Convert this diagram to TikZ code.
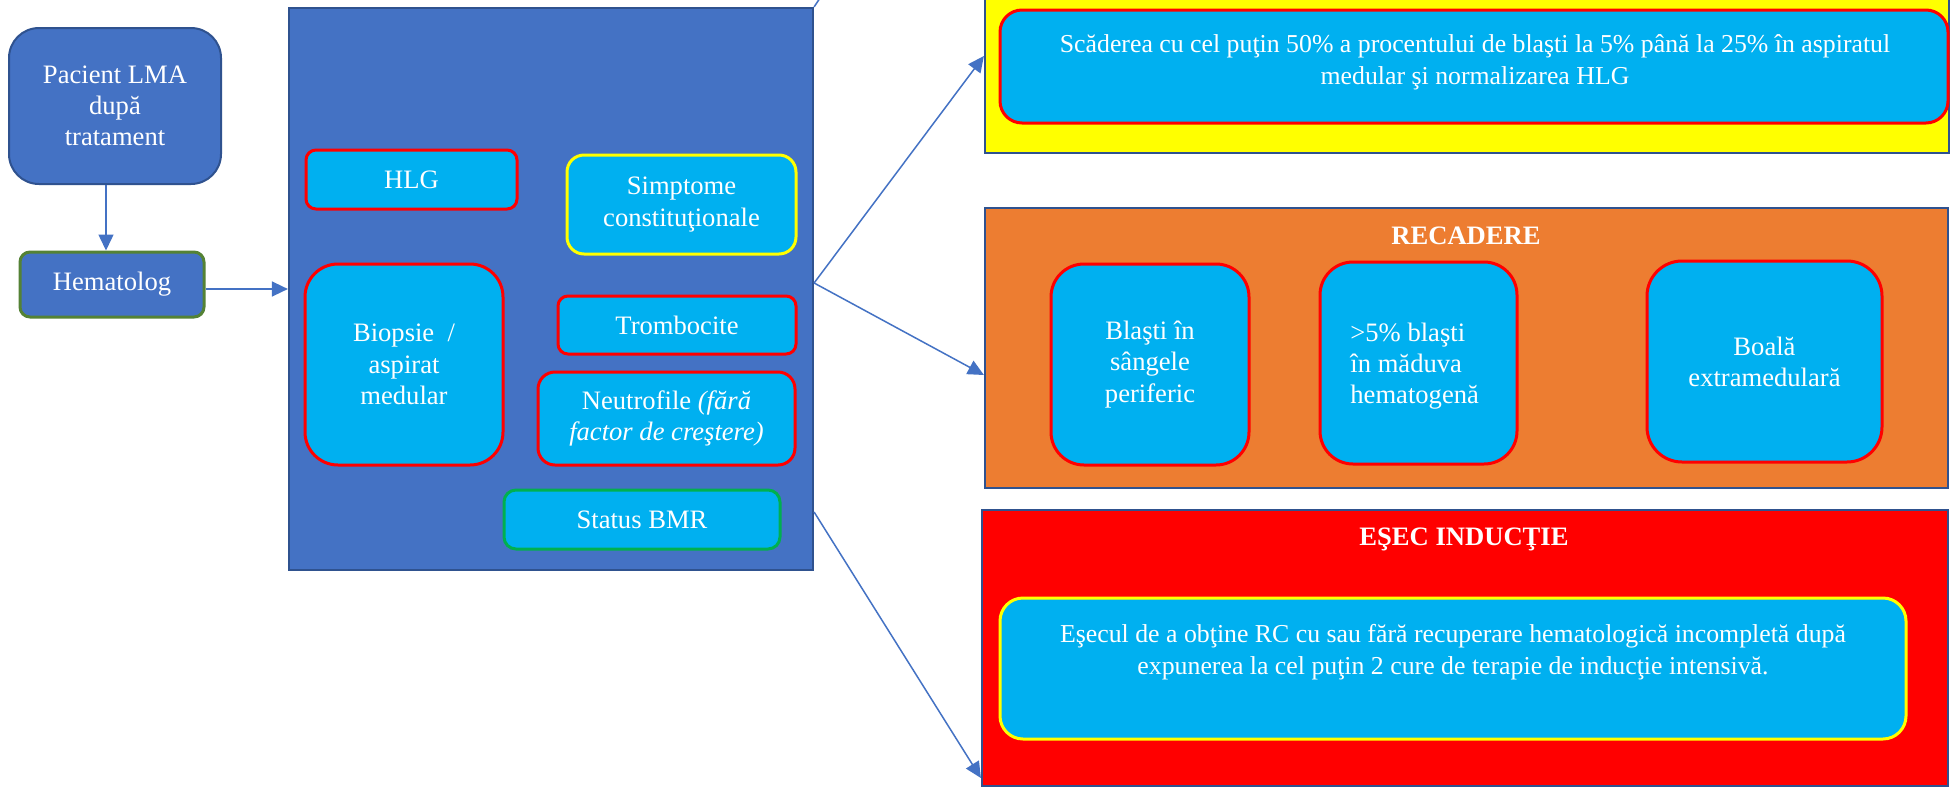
\documentclass[tikz,border=0pt]{standalone}
\usepackage{fontspec}
\setmainfont{Liberation Serif}
\usetikzlibrary{arrows.meta}
\definecolor{officeblue}{HTML}{4472C4}
\definecolor{darkedge}{HTML}{2F528F}
\definecolor{cyanfill}{HTML}{00B0F0}
\definecolor{boxred}{HTML}{FF0000}
\definecolor{boxyellow}{HTML}{FFFF00}
\definecolor{boxorange}{HTML}{ED7D31}
\definecolor{boxgreen}{HTML}{00B050}
\definecolor{olivegreen}{HTML}{548235}
\tikzset{
  sz/.style 2 args={minimum width=#1*0.5pt, minimum height=#2*0.5pt},
  rad/.style={rounded corners=#1*0.5pt},
  txt/.style={text=white, align=center, inner sep=0pt,
              font=\fontsize{13.3}{15.6}\selectfont},
  longtxt/.style={txt, font=\fontsize{12.9}{15.8}\selectfont},
  panel/.style={draw=darkedge, line width=1.1pt, inner sep=0pt},
  item/.style={txt, fill=cyanfill, draw=boxred, line width=1.5pt},
  title/.style={txt, font=\fontsize{13.3}{15.6}\selectfont\bfseries},
  conn/.style={draw=officeblue, line width=0.75pt,
               -{Triangle[length=8pt,width=7.5pt]}},
  plainline/.style={draw=officeblue, line width=0.75pt},
}
\begin{document}
\begin{tikzpicture}[x=0.5pt,y=-0.5pt]
\path[use as bounding box] (0,0) rectangle (1950,788);
\fill[white] (0,0) rectangle (1950,788);
\clip (0,0) rectangle (1950,788);

% left column
\node[txt, fill=officeblue, draw=darkedge, line width=1pt, sz={212}{156}, rad=30]
  (pacient) at (115,106) {Pacient LMA\\după\\tratament};
\node[txt, fill=officeblue, draw=olivegreen, line width=1.5pt, sz={184}{65}, rad=10]
  (hemat) at (112,284.5) {Hematolog};

% assessment panel
\node[panel, fill=officeblue, sz={524}{562}] (big) at (551,289) {};
\node[item, sz={211}{59}, rad=10] (hlg) at (411.5,179.5) {HLG};
\node[item, draw=boxyellow, sz={229}{99}, rad=17] (simpt) at (681.5,204.5)
  {Simptome\\constituţionale};
\node[item, sz={198}{201}, rad=33] (biop) at (404,364.5)
  {Biopsie\ \ /\\aspirat\\medular};
\node[item, sz={238}{58}, rad=10] (tromb) at (677,325) {Trombocite};
\node[item, sz={257}{93}, rad=17] (neutro) at (666.5,418.5)
  {Neutrofile \textit{(fără}\\\textit{factor de creştere)}};
\node[item, draw=boxgreen, sz={276}{59}, rad=12] (bmr) at (642,519.5) {Status BMR};

% response panel
\node[panel, fill=boxyellow, sz={964}{193}] (yel) at (1467,56.5) {};
\node[item, sz={948}{113}, rad=22] (yelin) at (1474,66.5) {};
\node[longtxt] (yeltext) at (1475,62)
  {Scăderea cu cel puţin 50\% a procentului de blaşti la 5\% până la 25\% în aspiratul\\medular şi normalizarea HLG};

% relapse panel
\node[panel, fill=boxorange, sz={963}{280}] (orange) at (1466.5,348) {};
\node[title] (rectitle) at (1466,236) {RECADERE};
\node[item, sz={198}{201}, rad=33] (rb1) at (1150,364.5)
  {Blaşti în\\sângele\\periferic};
\node[item, sz={197}{202}, rad=33] (rb2) at (1418.5,363) {};
\node[txt, align=left, anchor=west] (rb2text) at (1350,366)
  {>5\% blaşti\\în măduva\\hematogenă};
\node[item, sz={235}{201}, rad=35] (rb3) at (1764.5,361.5)
  {Boală\\extramedulară};

% induction failure panel
\node[panel, fill=boxred, sz={966}{276}] (redbox) at (1465,648) {};
\node[title] (esectitle) at (1464,539) {EŞEC INDUCŢIE};
\node[item, draw=boxyellow, sz={906}{141}, rad=23] (redin) at (1453,668.5) {};
\node[longtxt] (redtext) at (1453,652)
  {Eşecul de a obţine RC cu sau fără recuperare hematologică incompletă după\\expunerea la cel puţin 2 cure de terapie de inducţie intensivă.};

% connectors
\draw[conn] ([xshift=-4.5pt]pacient.south) -- ([xshift=-3pt]hemat.north);
\draw[conn] (hemat.east |- 0,289) -- (big.west |- 0,289);
\draw[conn] (big.east |- 0,283) -- (yel.west |- 0,56);
\draw[conn] (big.east |- 0,283) -- (orange.west |- 0,375);
\draw[conn] (big.east |- 0,512) -- (redbox.west |- 0,778);
\draw[plainline] (big.north east) -- ++(6,-9);
\end{tikzpicture}
\end{document}
